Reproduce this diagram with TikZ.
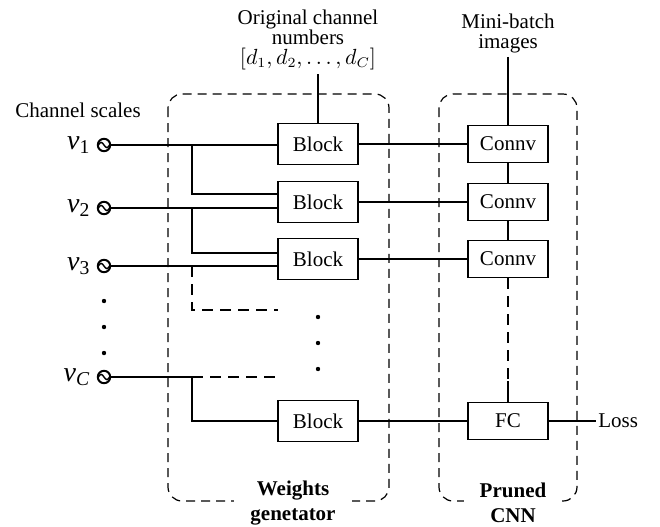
\documentclass[tikz,border=0pt]{standalone}
\usepackage{fontspec}
\setmainfont{Liberation Serif}
\usetikzlibrary{positioning, calc}
\tikzset{
    blockbox/.style={
        draw, line width=0.75pt, minimum width=40pt, minimum height=20.5pt,
        inner sep=0pt, font=\fontsize{10.5}{10}\selectfont,
    },
    convbox/.style={
        blockbox, minimum height=18.5pt,
    },
    groupbox/.style={
        draw, line width=0.6pt, dash pattern=on 4.5pt off 3pt,
        rounded corners=7pt,
    },
    grouplabel/.style={
        fill=white, font=\fontsize{10.5}{12.5}\selectfont\bfseries,
        align=center, inner xsep=8pt, inner ysep=1pt,
    },
    src/.style={
        circle, draw, line width=1pt, minimum size=6.2pt, inner sep=0pt,
        path picture={
            \draw[line width=0.7pt, shift={(path picture bounding box.center)}]
                (-2.8pt,0pt) sin (-1.4pt,1.3pt) cos (0pt,0pt)
                sin (1.4pt,-1.3pt) cos (2.8pt,0pt);
        },
    },
    dot/.style={circle, fill, minimum size=2.2pt, inner sep=0pt},
    wire/.style={line width=0.55pt},
    dwire/.style={wire, dash pattern=on 5.5pt off 3.5pt},
    vlabel/.style={font=\fontsize{14}{16}\selectfont, inner sep=1pt},
    note/.style={font=\fontsize{10.5}{10}\selectfont, align=center, inner sep=2pt},
}
\begin{document}
\begin{tikzpicture}[x=0.5pt, y=-0.5pt]
\useasboundingbox (0,0) rectangle (660,526);

% --- group frames ---
\draw[groupbox] (168,94) rectangle (389,501);
\draw[groupbox] (439,94) rectangle (577,501);

% --- channel scale sources ---
\node[note] (cs) at (78,110) {Channel scales};
\node[src] (v1) at (104,145) {};
\node[src] (v2) at (104,208) {};
\node[src] (v3) at (104,266) {};
\node[src] (vC) at (104,377) {};
\node[vlabel, left=2pt of v1] (lv1) {\textit{v}\textsubscript{1}};
\node[vlabel, left=2pt of v2] (lv2) {\textit{v}\textsubscript{2}};
\node[vlabel, left=2pt of v3] (lv3) {\textit{v}\textsubscript{3}};
\node[vlabel, left=2pt of vC] (lvC) {\textit{v}\textsubscript{\textit{C}}};
\foreach \y [count=\i] in {301,327,353}
    \node[dot] (ld\i) at (104,\y) {};

% --- weights generator blocks ---
\node[blockbox] (b1) at (318,144) {Block};
\node[blockbox] (b2) at (318,202) {Block};
\node[blockbox] (b3) at (318,259) {Block};
\node[blockbox] (b4) at (318,421) {Block};
\foreach \y [count=\i] in {317,343,369}
    \node[dot] (md\i) at (318,\y) {};

% --- pruned CNN ---
\node[convbox] (c1) at (508,144) {Connv};
\node[convbox] (c2) at (508,202) {Connv};
\node[convbox] (c3) at (508,259) {Connv};
\node[convbox] (fc) at (508,421) {FC};
\node[note, anchor=west, inner sep=1pt] (loss) at (596,421) {Loss};

% --- inputs on top ---
\node[note] (ocn) at (308,40) {Original channel\\numbers\\$[d_1, d_2, \ldots, d_C]$};
\node[note] (mb) at (508,33) {Mini-batch\\images};

% junctions
\coordinate (j1) at (192,145);
\coordinate (j2) at (192,208);
\coordinate (j3) at (192,266);
\coordinate (jC) at (192,377);
\coordinate (g3) at (278,310);
\coordinate (gC) at (278,377);
\coordinate (fcin) at (508,381);

% Wires into the blocks
\draw[wire] (v1) -- (v1 -| b1.west);
\draw[wire] (j1) |- ($(b2.west)+(0,-8)$);
\draw[wire] (v2) -- (v2 -| b2.west);
\draw[wire] (j2) |- ($(b3.west)+(0,-6)$);
\draw[wire] (v3) -- (v3 -| b3.west);
\draw[dwire] (j3) |- (g3);
\draw[wire] (vC) -- (jC);
\draw[dwire] (jC) -- (gC);
\draw[wire] (jC) |- (b4.west);
\draw[wire] (ocn.south -| b1.north) -- (b1.north);

% Blocks to network
\draw[wire] (b1) -- (c1);
\draw[wire] (b2) -- (c2);
\draw[wire] (b3) -- (c3);
\draw[wire] (b4) -- (fc);
\draw[wire] (mb) -- (c1);
\draw[wire] (c1) -- (c2);
\draw[wire] (c2) -- (c3);
\draw[dwire] (c3) -- (fcin);
\draw[wire] (fcin) -- (fc);
\draw[wire] (fc) -- (loss);

% --- group labels ---
\node[grouplabel] (wg) at (293,503) {Weights\\genetator};
\node[grouplabel] (pc) at (513,503) {Pruned\\CNN};

\end{tikzpicture}
\end{document}
